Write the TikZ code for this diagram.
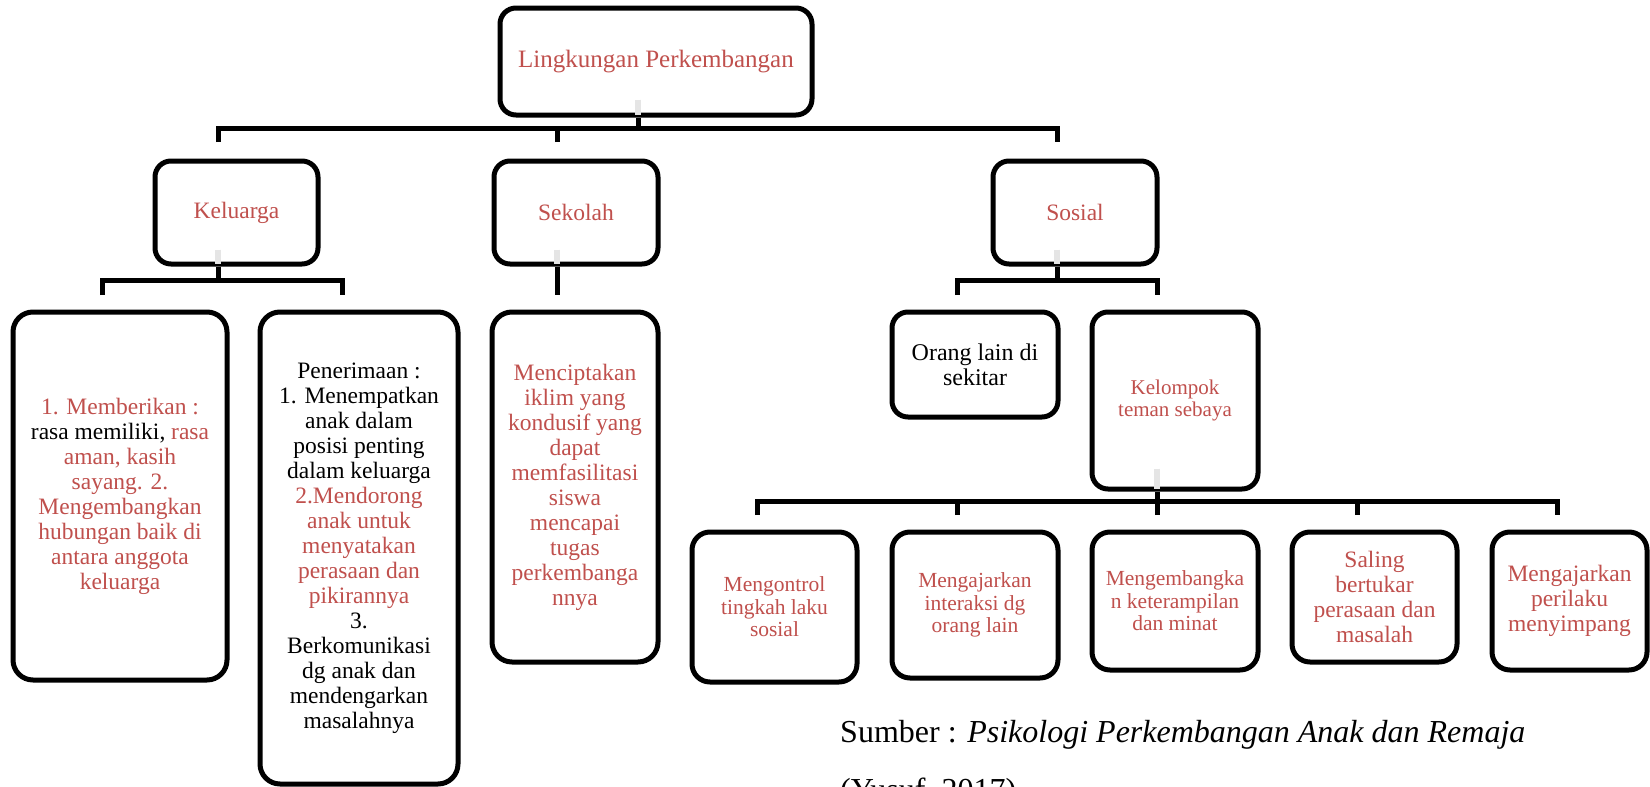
\documentclass[tikz,border=0pt]{standalone}
\usepackage{fontspec}
\setmainfont{Liberation Serif}
\definecolor{txtred}{RGB}{192,80,77}
\newcommand\redt[1]{\textcolor{txtred}{#1}}
\newcommand\blkt[1]{\textcolor{black}{#1}}
\begin{document}
\begin{tikzpicture}[x=1pt,y=-1pt,
  bx/.style={draw=black, line width=5pt, rounded corners=16pt, inner sep=0pt, align=center, fill=white},
  bar/.style={line width=5pt, line join=miter},
  ghost/.style={line width=6pt, draw=black!10},
  fA/.style={font=\fontsize{23.5}{25}\selectfont},
  fB/.style={font=\fontsize{21.5}{22.5}\selectfont},
]
\useasboundingbox (0,0) rectangle (1650,787);
\clip (0,0) rectangle (1650,787);

% level 0
\node[bx, minimum width=312pt, minimum height=107pt, text=txtred, font=\fontsize{25}{27}\selectfont] (top) at (656,61.5) {Lingkungan Perkembangan};

% level 1
\node[bx, minimum width=163pt, minimum height=103pt, text=txtred, fA] (kel) at (236.5,212.5) {Keluarga};
\node[bx, minimum width=164pt, minimum height=103pt, text=txtred, fA] (sek) at (576,212.5) {Sekolah};
\node[bx, minimum width=164pt, minimum height=103pt, text=txtred, fA] (sos) at (1075,212.5) {Sosial};

% level 2
\node[bx, rounded corners=20pt, minimum width=214pt, minimum height=368pt, text=txtred, fA] (mem) at (120,496)
 {1. Memberikan :\\ \blkt{rasa memiliki,} rasa\\ aman, kasih\\ sayang. 2.\\ Mengembangkan\\ hubungan baik di\\ antara anggota\\ keluarga};
\node[bx, rounded corners=20pt, minimum width=198pt, minimum height=472pt, text=black, fA] (pen) at (359,548)
 {Penerimaan :\\ 1. Menempatkan\\ anak dalam\\ posisi penting\\ dalam keluarga\\ \redt{2.Mendorong}\\ \redt{anak untuk}\\ \redt{menyatakan}\\ \redt{perasaan dan}\\ \redt{pikirannya}\\ 3.\\ Berkomunikasi\\ dg anak dan\\ mendengarkan\\ masalahnya};
\node[bx, rounded corners=20pt, minimum width=166pt, minimum height=350pt, text=txtred, fA] (skc) at (575,487)
 {Menciptakan\\ iklim yang\\ kondusif yang\\ dapat\\ memfasilitasi\\ siswa\\ mencapai\\ tugas\\ perkembanga\\ nnya};
\node[bx, minimum width=166pt, minimum height=105pt, text=black, font=\fontsize{24}{25}\selectfont] (org) at (975,364.5) {Orang lain di\\ sekitar};
\node[bx, minimum width=166pt, minimum height=177pt, text=txtred, font=\fontsize{21}{22}\selectfont] (kmp) at (1175,400.5) {Kelompok\\ teman sebaya};

% level 3
\node[bx, rounded corners=18pt, minimum width=165pt, minimum height=150pt, text=txtred, fB] (b1) at (774.5,607) {Mengontrol\\ tingkah laku\\ sosial};
\node[bx, rounded corners=18pt, minimum width=166pt, minimum height=146pt, text=txtred, fB] (b2) at (975,605) {Mengajarkan\\ interaksi dg\\ orang lain};
\node[bx, rounded corners=18pt, minimum width=166pt, minimum height=138pt, text=txtred, fB] (b3) at (1175,601) {Mengembangka\\ n keterampilan\\ dan minat};
\node[bx, rounded corners=18pt, minimum width=165pt, minimum height=130pt, text=txtred, fA] (b4) at (1374.5,597) {Saling\\ bertukar\\ perasaan dan\\ masalah};
\node[bx, rounded corners=18pt, minimum width=155pt, minimum height=138pt, text=txtred, fA] (b5) at (1569.5,601) {Mengajarkan\\ perilaku\\ menyimpang};

% faint stubs
\draw[ghost] ([xshift=-18pt,yshift=18pt]top.south) -- ([xshift=-18pt,yshift=2.5pt]top.south);
\draw[ghost] ([xshift=-18.5pt,yshift=17pt]kel.south) -- ([xshift=-18.5pt,yshift=2.5pt]kel.south);
\draw[ghost] ([xshift=-19pt,yshift=17pt]sek.south) -- ([xshift=-19pt,yshift=2.5pt]sek.south);
\draw[ghost] ([xshift=-18pt,yshift=17pt]sos.south) -- ([xshift=-18pt,yshift=2.5pt]sos.south);
\draw[ghost] ([xshift=-18pt,yshift=23pt]kmp.south) -- ([xshift=-18pt,yshift=2.5pt]kmp.south);

% connectors level 0 -> 1
\coordinate (jT) at (638,128);
\coordinate (dKel) at (218,142);
\coordinate (dSek) at (557,142);
\coordinate (dSos) at (1057,142);
\draw[bar] ([xshift=-18pt]top.south) -- (jT);
\draw[bar] (dKel) -- (dKel |- jT) -- (dSos |- jT) -- (dSos);
\draw[bar] (dSek) -- (dSek |- jT);

% Keluarga -> children
\coordinate (jK) at (218,280);
\coordinate (dMem) at (102,295);
\coordinate (dPen) at (342,295);
\draw[bar] ([xshift=-18.5pt]kel.south) -- (jK);
\draw[bar] (dMem) -- (dMem |- jK) -- (dPen |- jK) -- (dPen);

% Sekolah -> child
\coordinate (dSkc) at (557,295);
\draw[bar] ([xshift=-19pt]sek.south) -- (dSkc);

% Sosial -> children
\coordinate (jS) at (1057,280);
\coordinate (dOrg) at (957,295);
\coordinate (dKmp) at (1157,295);
\draw[bar] ([xshift=-18pt]sos.south) -- (jS);
\draw[bar] (dOrg) -- (dOrg |- jS) -- (dKmp |- jS) -- (dKmp);

% Kelompok -> children
\coordinate (jB) at (1157,501);
\coordinate (d1) at (757,515);
\coordinate (d2) at (957,515);
\coordinate (d3) at (1157,515);
\coordinate (d4) at (1357,515);
\coordinate (d5) at (1557,515);
\draw[bar] ([xshift=-18pt]kmp.south) -- (jB);
\draw[bar] (d1) -- (d1 |- jB) -- (d5 |- jB) -- (d5);
\draw[bar] (d2) -- (d2 |- jB);
\draw[bar] (d3) -- (d3 |- jB);
\draw[bar] (d4) -- (d4 |- jB);

% source
\node[anchor=base west, inner sep=0pt, font=\fontsize{32}{32}\selectfont] (src) at (840,742) {Sumber : \textit{Psikologi Perkembangan Anak dan Remaja}};
\node[anchor=base west, inner sep=0pt, font=\fontsize{32}{32}\selectfont] (src2) at (840,800) {(Yusuf, 2017)};
\end{tikzpicture}
\end{document}
